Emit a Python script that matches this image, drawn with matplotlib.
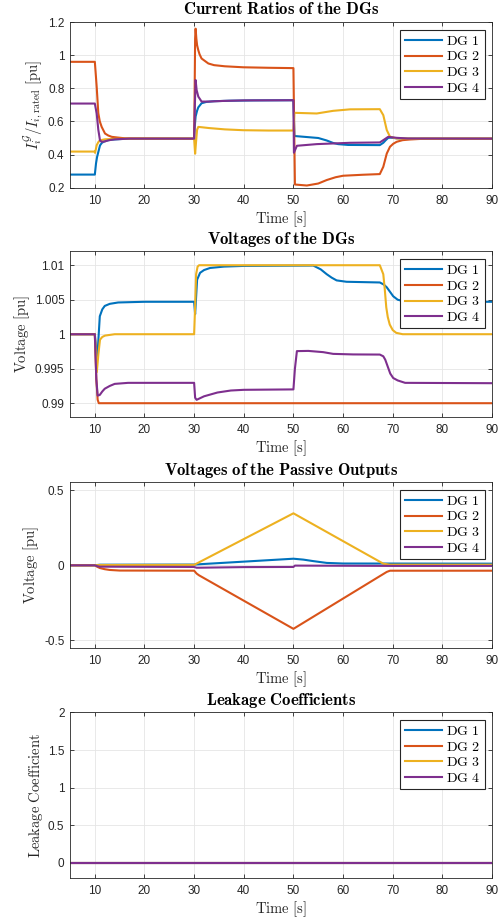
import matplotlib
matplotlib.use("Agg")
import matplotlib.pyplot as plt
import matplotlib.ticker as ticker

plt.rcParams['mathtext.fontset'] = 'cm'
plt.rcParams['font.family'] = ['Liberation Sans', 'DejaVu Sans']
plt.rcParams['axes.unicode_minus'] = False

colors = ['#0072BD', '#D95319', '#EDB120', '#7E2F8E']
names = [r'$\mathrm{DG\ 1}$', r'$\mathrm{DG\ 2}$', r'$\mathrm{DG\ 3}$', r'$\mathrm{DG\ 4}$']

# current ratios
cur_t1 = [5, 10, 10.24, 10.45, 10.7, 11.04, 11.4, 11.8, 12.5, 13.4, 16, 20, 30, 30.1, 30.3, 30.6, 30.84,
          31.5, 32.5, 34, 37, 42, 50, 50.2, 53, 55, 56.7, 58, 59, 61, 67.4, 68.1, 68.6, 69.1, 69.6, 70.8, 73, 90]
cur_v1 = [0.279, 0.279, 0.347, 0.385, 0.415, 0.455, 0.47, 0.478, 0.485, 0.49, 0.495, 0.496, 0.496, 0.56, 0.63,
          0.665, 0.685, 0.71, 0.718, 0.722, 0.725, 0.727, 0.728, 0.512, 0.505, 0.50, 0.485, 0.47, 0.463, 0.458,
          0.457, 0.471, 0.487, 0.501, 0.502, 0.498, 0.496, 0.496]
cur_t2 = [5, 10, 10.15, 10.37, 10.7, 11.0, 11.38, 12.05, 12.7, 13.4, 14.5, 16.1, 20, 30, 30.05, 30.2, 30.3,
          30.45, 30.6, 30.84, 31.1, 31.5, 32.86, 34, 36.2, 39.9, 45, 50, 50.3, 52.7, 55, 56.7, 58.5, 60, 64,
          67.4, 68.1, 68.8, 69.45, 70.1, 70.8, 72, 73.5, 76, 90]
cur_v2 = [0.96, 0.96, 0.90, 0.81, 0.65, 0.60, 0.567, 0.527, 0.515, 0.507, 0.503, 0.498, 0.497, 0.496, 0.6,
          1.1, 1.16, 1.1, 1.06, 1.03, 1.005, 0.98, 0.95, 0.94, 0.933, 0.927, 0.924, 0.922, 0.219, 0.213,
          0.225, 0.246, 0.263, 0.272, 0.278, 0.282, 0.326, 0.406, 0.447, 0.465, 0.477, 0.487, 0.491, 0.495, 0.496]
cur_t3 = [5, 10, 10.05, 10.37, 10.7, 11.04, 12.05, 14, 20, 30, 30.1, 30.2, 30.45, 30.6, 30.84, 31.5, 33,
          36.2, 39.9, 45, 50, 50.2, 54.7, 58, 61.4, 67.4, 68.1, 68.8, 69.45, 70.8, 90]
cur_v3 = [0.418, 0.418, 0.41, 0.456, 0.475, 0.486, 0.492, 0.495, 0.496, 0.496, 0.45, 0.405, 0.50, 0.55, 0.567,
          0.565, 0.56, 0.552, 0.547, 0.545, 0.545, 0.652, 0.648, 0.664, 0.673, 0.674, 0.638, 0.548, 0.508, 0.497,
          0.496]
cur_t4 = [5, 10, 10.37, 10.7, 11.04, 11.38, 12, 12.7, 14, 17, 30, 30.15, 30.3, 30.5, 30.84, 31.5, 32.86, 36,
          40, 50, 50.1, 50.7, 54.7, 61.4, 67.4, 68.1, 69.1, 70.8, 73, 90]
cur_v4 = [0.708, 0.708, 0.648, 0.55, 0.485, 0.477, 0.479, 0.486, 0.492, 0.496, 0.496, 0.7, 0.85, 0.79, 0.75,
          0.72, 0.72, 0.724, 0.727, 0.728, 0.411, 0.453, 0.463, 0.471, 0.473, 0.487, 0.507, 0.501, 0.497, 0.496]

# DG voltages
volt_t1 = [5, 10, 10.3, 10.5, 10.7, 11.0, 11.5, 12, 13, 14.7, 20, 30, 30.2, 30.6, 31.2, 32, 33.2, 36, 40, 54,
           55.5, 56.7, 57.7, 58.7, 60.7, 67.4, 68.2, 68.8, 69.5, 70.1, 71, 72.1, 75, 90]
volt_v1 = [1.0, 1.0, 0.9975, 0.9965, 0.999, 1.0026, 1.0036, 1.0041, 1.0044, 1.0046, 1.0047, 1.0047, 1.0029,
           1.0079, 1.0089, 1.0093, 1.0096, 1.0098, 1.0099, 1.00995, 1.0094, 1.0087, 1.0082, 1.0078, 1.0076,
           1.0075, 1.0072, 1.0068, 1.0061, 1.0055, 1.0050, 1.0048, 1.0047, 1.0047]
volt_t2 = [5, 10, 10.3, 10.57, 10.8, 90]
volt_v2 = [1.0, 1.0, 0.9935, 0.9905, 0.99, 0.99]
volt_t3 = [5, 10, 10.4, 10.7, 11.04, 11.5, 12.05, 14, 30, 30.15, 30.4, 30.7, 31, 67.4, 68.1, 68.4, 68.7, 69.0,
           69.4, 70, 70.7, 72, 90]
volt_v3 = [1.0, 1.0, 0.9945, 0.997, 0.9992, 0.9996, 0.9998, 1.0, 1.0, 1.003, 1.0087, 1.0098, 1.01, 1.01,
           1.0087, 1.0065, 1.0039, 1.0025, 1.0014, 1.0006, 1.0002, 1.0, 1.0]
volt_t4 = [5, 10, 10.3, 10.57, 11, 11.5, 12, 13, 14, 16.7, 30, 30.2, 30.5, 32, 34.7, 37.4, 40, 50, 50.3, 50.7,
           53, 56, 58, 62, 67.4, 68.1, 68.5, 69, 69.5, 70.1, 71, 72.5, 90]
volt_v4 = [1.0, 1.0, 0.9935, 0.9911, 0.9912, 0.9917, 0.9921, 0.9925, 0.9928, 0.99295, 0.99295, 0.9908,
           0.99049, 0.991, 0.99155, 0.99184, 0.99194, 0.992, 0.995, 0.99755, 0.99758, 0.9974, 0.99715, 0.99707,
           0.99705, 0.9968, 0.9963, 0.9953, 0.9943, 0.99365, 0.9933, 0.99295, 0.9929]

# passive outputs
pas_t1 = [5, 10, 10.5, 11, 30, 50, 52, 54, 56.7, 60, 90]
pas_v1 = [0, 0, 0.002, 0.004, 0.005, 0.044, 0.038, 0.028, 0.016, 0.012, 0.011]
pas_t2 = [5, 10, 10.5, 11, 12, 13, 15, 30, 30.5, 31, 50, 68.8, 69.45, 90]
pas_v2 = [0, 0, -0.01, -0.018, -0.026, -0.031, -0.035, -0.036, -0.055, -0.067, -0.424, -0.044, -0.036, -0.036]
pas_t3 = [5, 10, 11, 30, 50, 68.1, 69.4, 90]
pas_v3 = [0, 0, 0.002, 0.003, 0.347, 0.011, 0.004, 0.004]
pas_t4 = [5, 10, 10.5, 11, 30, 30.5, 31, 40, 50, 50.3, 60, 70, 90]
pas_v4 = [0, 0, -0.006, -0.009, -0.011, -0.016, -0.016, -0.012, -0.011, -0.002, -0.003, -0.004, -0.004]

# leakage coefficients
leak_t = [5, 90]
leak_v1 = [0, 0]
leak_v2 = [0, 0]
leak_v3 = [0, 0]
leak_v4 = [0, 0]

panels = [
    dict(title='Current\\ Ratios\\ of\\ the\\ DGs',
         ylabel=r'$I_i^{\mathcal{G}}/I_{i,\mathrm{rated}}\ \mathrm{[pu]}$',
         series=[(cur_t1, cur_v1), (cur_t2, cur_v2), (cur_t3, cur_v3), (cur_t4, cur_v4)],
         ylim=(0.2, 1.2), yticks=[0.2, 0.4, 0.6, 0.8, 1.0, 1.2], bottom=0.7969, wide=True),
    dict(title='Voltages\\ of\\ the\\ DGs', ylabel=r'$\mathrm{Voltage\ [pu]}$',
         series=[(volt_t1, volt_v1), (volt_t2, volt_v2), (volt_t3, volt_v3), (volt_t4, volt_v4)],
         ylim=(0.988, 1.012), yticks=[0.99, 0.995, 1.0, 1.005, 1.01], bottom=0.5487, wide=False),
    dict(title='Voltages\\ of\\ the\\ Passive\\ Outputs', ylabel=r'$\mathrm{Voltage\ [pu]}$',
         series=[(pas_t1, pas_v1), (pas_t2, pas_v2), (pas_t3, pas_v3), (pas_t4, pas_v4)],
         ylim=(-0.55, 0.555), yticks=[-0.5, 0, 0.5], bottom=0.299, wide=True),
    dict(title='Leakage\\ Coefficients', ylabel=r'$\mathrm{Leakage\ Coefficient}$',
         series=[(leak_t, leak_v1), (leak_t, leak_v2), (leak_t, leak_v3), (leak_t, leak_v4)],
         ylim=(-0.2, 2.0), yticks=[0, 0.5, 1, 1.5, 2], bottom=0.0498, wide=False),
]

fig = plt.figure(figsize=(4.99, 9.24), dpi=100)
dark = '#262626'

for p in panels:
    ax = fig.add_axes([0.1403, p['bottom'], 0.8457, 0.1792])
    for (t, v), c, n in zip(p['series'], colors, names):
        ax.plot(t, v, color=c, lw=1.5, label=n)
    ax.set_xlim(5, 90)
    ax.set_ylim(*p['ylim'])
    ax.set_xticks(range(10, 91, 10))
    ax.set_yticks(p['yticks'])
    ax.yaxis.set_major_formatter(ticker.FormatStrFormatter('%g'))
    ax.grid(True, color='#e5e5e5', lw=0.6)
    ax.set_axisbelow(True)
    for s in ax.spines.values():
        s.set_color(dark)
        s.set_linewidth(0.6)
    ax.tick_params(direction='in', top=True, right=True, length=3, width=0.6,
                   colors=dark, labelsize=8.5, pad=4)
    ax.tick_params(axis='x', pad=5)
    ax.set_title(r'$\mathbf{' + p['title'] + '}$', fontsize=12, pad=5.5, color='black')
    ax.set_xlabel(r'$\mathrm{Time\ [s]}$', fontsize=10.5, color=dark, labelpad=2)
    ax.set_ylabel(p['ylabel'], fontsize=10.5, color=dark, labelpad=2)
    leg = ax.legend(loc='upper left', bbox_to_anchor=(0.783, 0.955), borderaxespad=0,
                    fontsize=10, handlelength=2.7, handletextpad=0.3, labelspacing=0.12,
                    borderpad=0.3, fancybox=False, framealpha=1)
    leg.get_frame().set_edgecolor(dark)
    leg.get_frame().set_linewidth(0.8)
    if p['wide']:
        # the wide legends in the original carry extra room on the right
        fig.canvas.draw()
        bb = leg.get_frame().get_bbox()
        leg.get_frame().set_width(bb.width + 9)

fig.savefig('out.png', dpi=100)
